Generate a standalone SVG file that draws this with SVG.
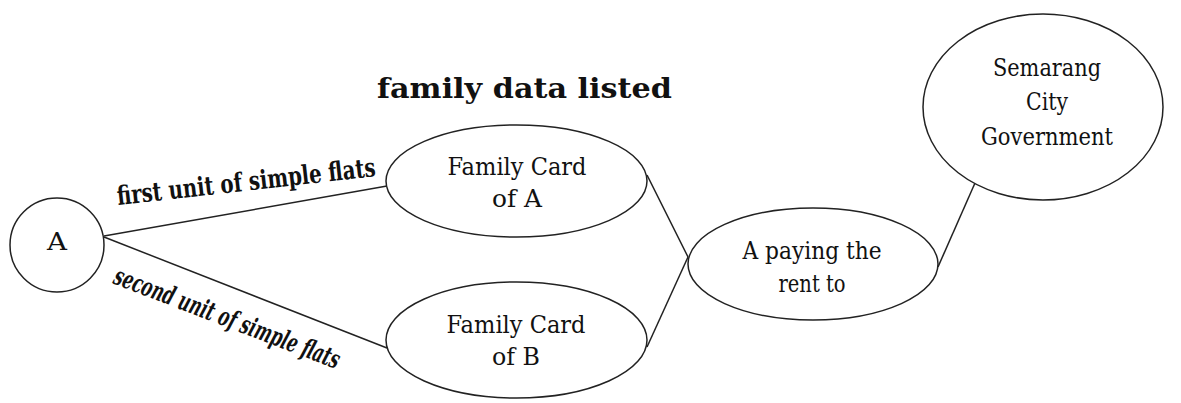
<svg xmlns="http://www.w3.org/2000/svg" width="1181" height="403" viewBox="0 0 1181 403">
<style>
.shape{fill:#fff;stroke:#222;stroke-width:1.5}
.edge{stroke:#222;stroke-width:1.5;fill:none}
.lbl{font-family:'DejaVu Serif',serif;font-weight:normal;font-size:24px;fill:#111;text-anchor:middle}
.blbl{font-family:'DejaVu Serif',serif;font-weight:bold;fill:#111}
</style>
<rect width="1181" height="403" fill="#fff"/>
<g id="connectors">
<line class="edge" x1="104" y1="236" x2="387" y2="186"/>
<line class="edge" x1="104" y1="237" x2="387" y2="348"/>
<line class="edge" x1="647" y1="175" x2="688" y2="257"/>
<line class="edge" x1="647" y1="347" x2="688" y2="257"/>
<line class="edge" x1="938" y1="267" x2="975" y2="183"/>
</g>
<g id="title">
<text class="blbl" x="377" y="98" font-size="28" textLength="295" lengthAdjust="spacingAndGlyphs">family data listed</text>
</g>
<g id="label-first">
<text class="blbl" transform="translate(118,205) rotate(-6.4)" font-size="26" textLength="260" lengthAdjust="spacingAndGlyphs">first unit of simple flats</text>
</g>
<g id="label-second">
<text class="blbl" transform="translate(112,283) rotate(21)" font-size="26" font-style="italic" textLength="240" lengthAdjust="spacingAndGlyphs">second unit of simple flats</text>
</g>
<g id="node-A">
<circle class="shape" cx="57" cy="245" r="47"/>
<text class="lbl" x="57" y="250" textLength="20" lengthAdjust="spacingAndGlyphs">A</text>
</g>
<g id="node-kka">
<ellipse class="shape" cx="516.5" cy="181" rx="130.5" ry="56"/>
<text class="lbl" x="517" y="175" textLength="139" lengthAdjust="spacingAndGlyphs">Family Card</text>
<text class="lbl" x="517" y="207" textLength="50" lengthAdjust="spacingAndGlyphs">of A</text>
</g>
<g id="node-kkb">
<ellipse class="shape" cx="516.5" cy="340" rx="130.5" ry="58"/>
<text class="lbl" x="516" y="333" textLength="139" lengthAdjust="spacingAndGlyphs">Family Card</text>
<text class="lbl" x="516" y="365" textLength="48" lengthAdjust="spacingAndGlyphs">of B</text>
</g>
<g id="node-pay">
<ellipse class="shape" cx="813" cy="264" rx="125" ry="56"/>
<text class="lbl" x="812" y="259" textLength="139" lengthAdjust="spacingAndGlyphs">A paying the</text>
<text class="lbl" x="812" y="292" textLength="67" lengthAdjust="spacingAndGlyphs">rent to</text>
</g>
<g id="node-gov">
<ellipse class="shape" cx="1043" cy="107" rx="120" ry="93"/>
<text class="lbl" x="1047" y="76" textLength="108" lengthAdjust="spacingAndGlyphs">Semarang</text>
<text class="lbl" x="1047" y="110" textLength="42" lengthAdjust="spacingAndGlyphs">City</text>
<text class="lbl" x="1047" y="145" textLength="132" lengthAdjust="spacingAndGlyphs">Government</text>
</g>
</svg>
